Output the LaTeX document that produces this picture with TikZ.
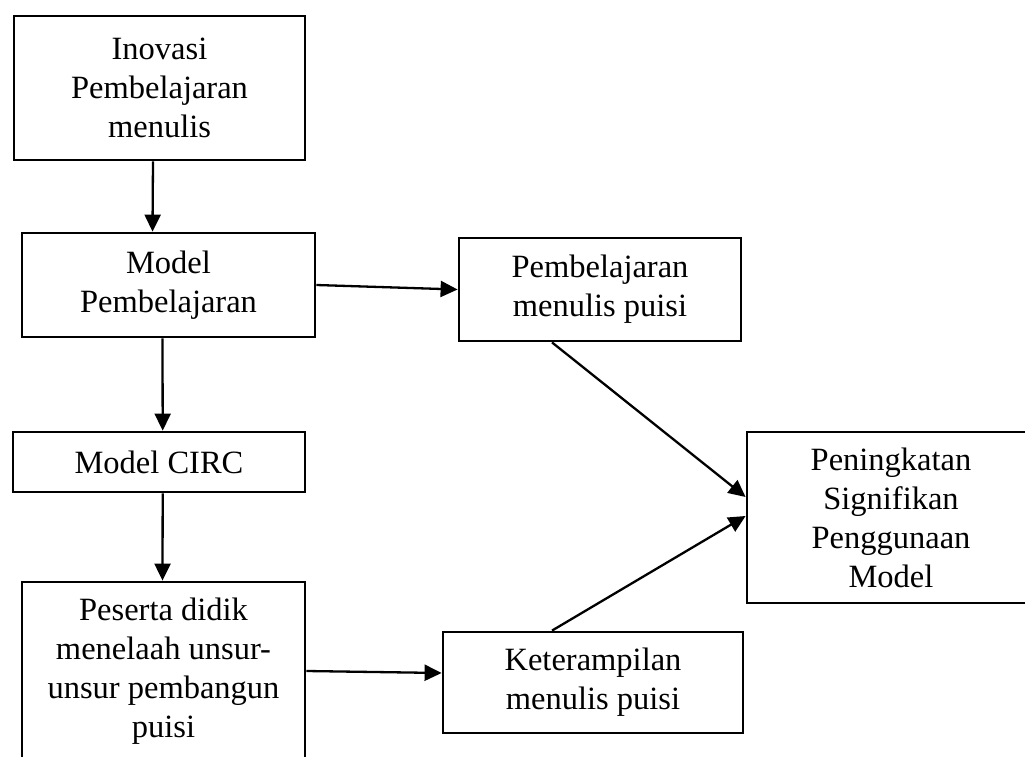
\documentclass[tikz,border=0pt]{standalone}
\usepackage{fontspec}
\setmainfont{Liberation Serif}
\usetikzlibrary{arrows.meta}
\begin{document}
\begin{tikzpicture}[x=1pt,y=-1pt,
  box/.style={draw=black, line width=2.8pt, inner sep=0pt, align=center,
    font=\fontsize{32.5}{39}\selectfont, text=black},
  arr/.style={draw=black, line width=2.3pt, -{Triangle[length=17pt,width=16pt]}}]
\useasboundingbox (0,0) rectangle (1025,757);
\clip (0,0) rectangle (1025,757);
\node[box, minimum width=291pt, minimum height=144pt] (b1) at (159.5,88) {Inovasi\\Pembelajaran\\menulis};
\node[box, minimum width=293pt, minimum height=104pt] (b2) at (168.5,285) {Model\\Pembelajaran};
\node[box, minimum width=292pt, minimum height=60pt] (b3) at (159,462) {Model CIRC};
\node[box, minimum width=283pt, minimum height=178pt] (b4) at (163.5,671) {Peserta didik\\menelaah unsur-\\unsur pembangun\\puisi};
\node[box, minimum width=282pt, minimum height=103pt] (b5) at (600,289.5) {Pembelajaran\\menulis puisi};
\node[box, minimum width=288pt, minimum height=171pt] (b6) at (891,517.5) {Peningkatan\\Signifikan\\Penggunaan\\Model};
\node[box, minimum width=300pt, minimum height=101pt] (b7) at (593,682.5) {Keterampilan\\menulis puisi};
\draw[arr] ([xshift=-6.5pt]b1.south) -- ([xshift=-16pt]b2.north);
\draw[arr] (b2.east) -- (b5.west);
\draw[arr] ([xshift=-6pt]b2.south) -- ([xshift=3.7pt]b3.north);
\draw[arr] ([xshift=3.7pt]b3.south) -- ([xshift=-1pt]b4.north);
\draw[arr] (b4.east) -- ([yshift=9.5pt]b7.west);
\draw[arr] ([xshift=-48pt]b5.south) -- ([yshift=20.5pt]b6.west);
\draw[arr] ([xshift=-41pt]b7.north) -- ([yshift=1.5pt]b6.west);
\end{tikzpicture}
\end{document}
